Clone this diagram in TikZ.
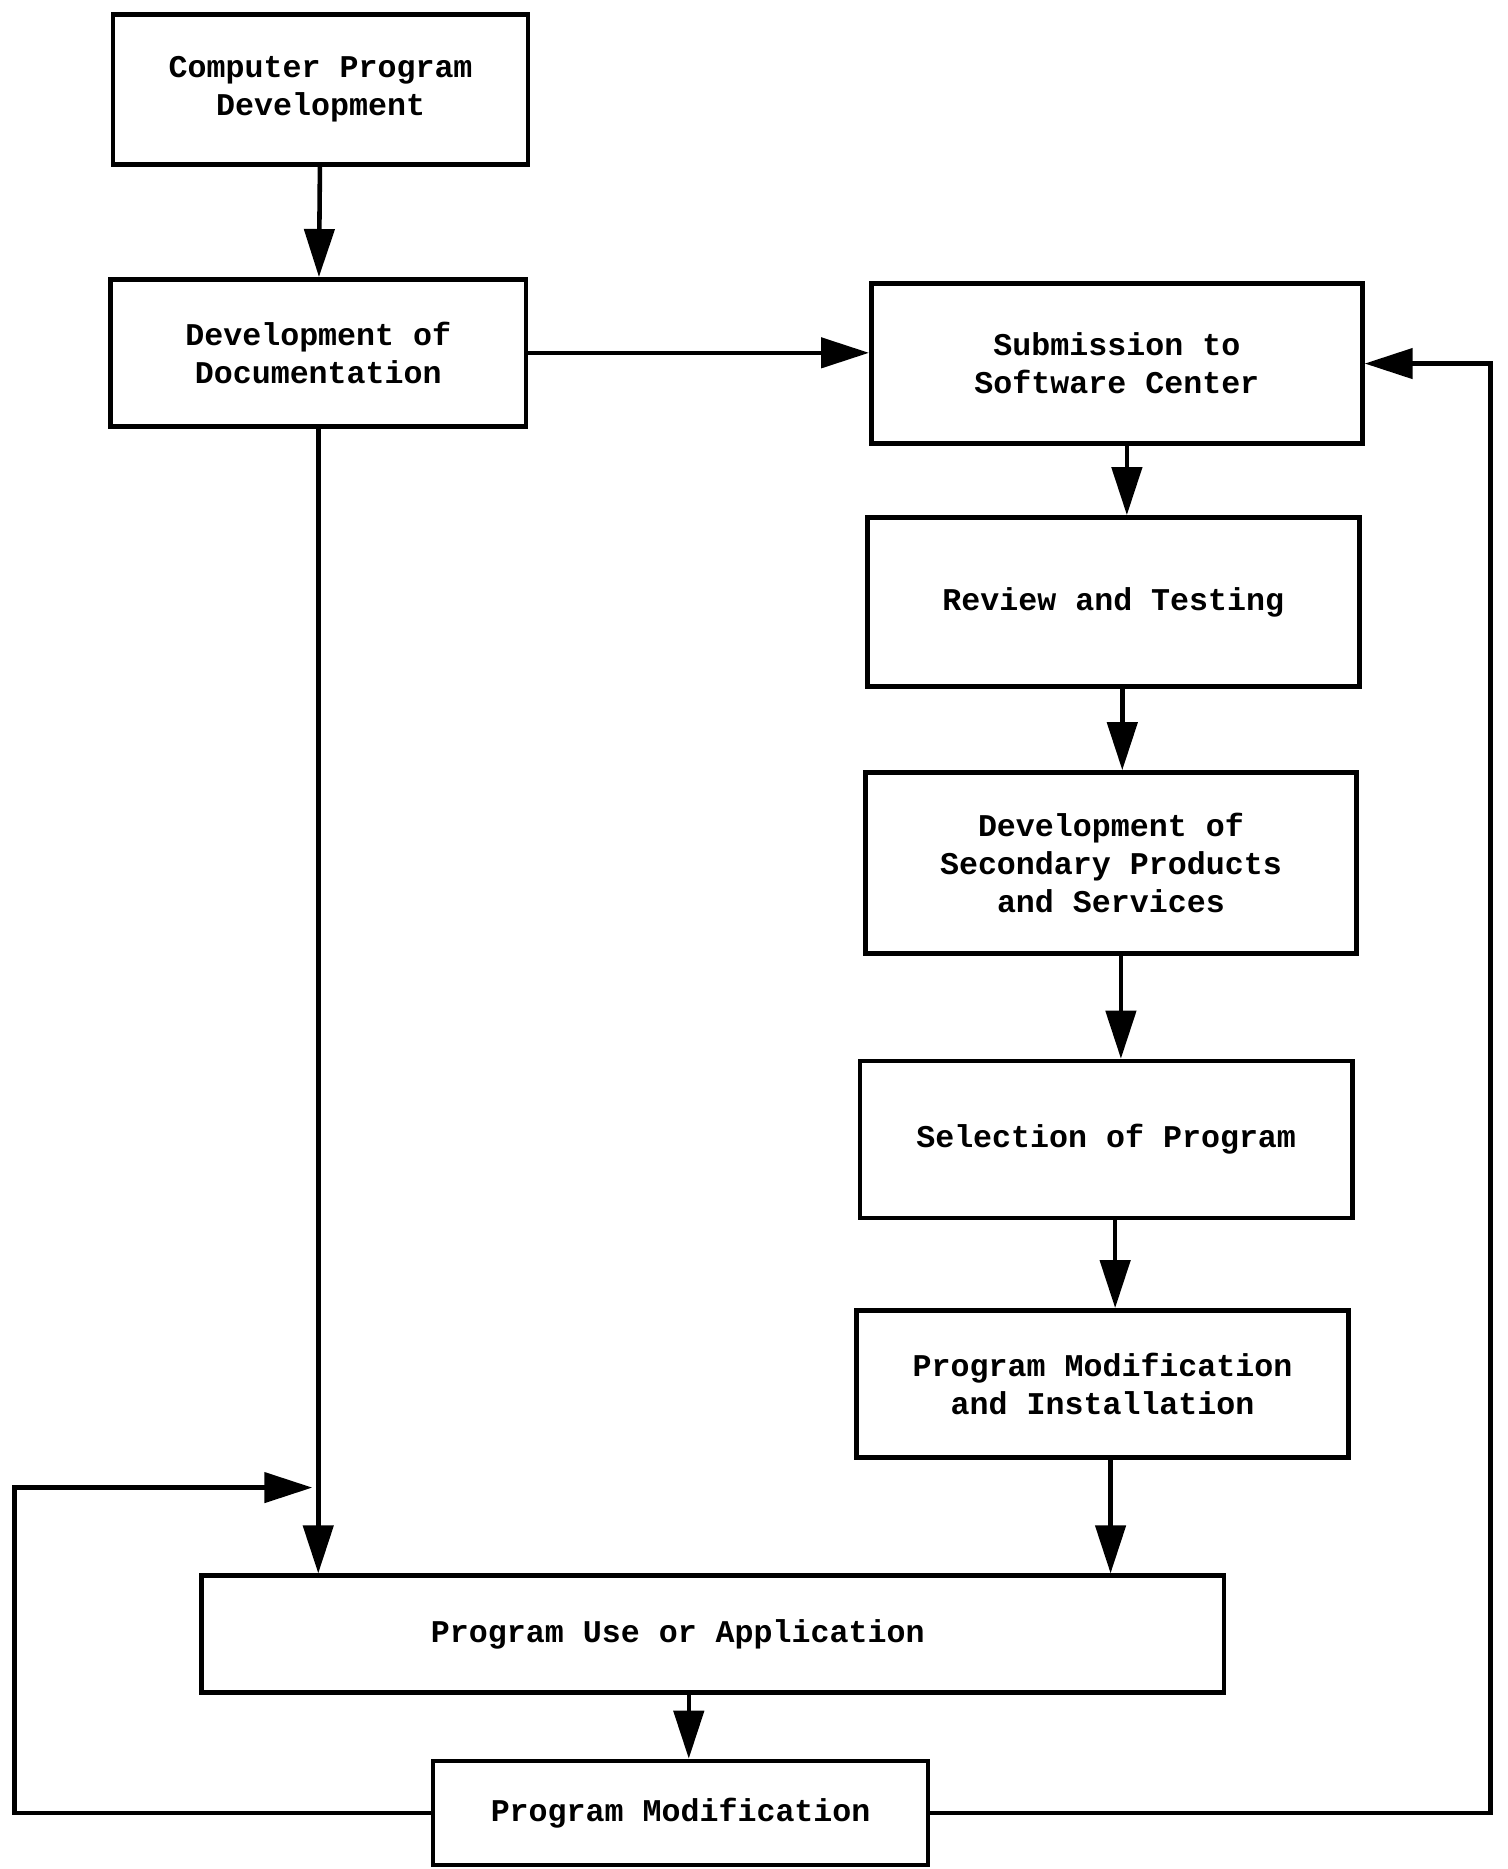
\documentclass[tikz,border=0pt]{standalone}
\usepackage{fontspec}
\setmonofont{Liberation Mono}
\usetikzlibrary{arrows.meta}

\begin{document}
\begin{tikzpicture}[x=0.01192cm, y=-0.01192cm,
	box/.style={draw, line width=1.3pt, align=center, font=\ttfamily\bfseries\fontsize{9}{10.8}\selectfont},
	flow/.style={-{Triangle[length=4.8mm, width=3mm]}, line width=1.3pt}]
	
	\useasboundingbox (0,0) rectangle (1265,1568);
	
	% left column
	\node [box, minimum width=4.15cm, minimum height=1.5cm] (cpd) at (269,75) {Computer Program\\Development};
	\node [box, minimum width=4.15cm, minimum height=1.47cm] (doc) at (267,296) {Development of\\Documentation};
	
	% right column
	\node [box, minimum width=4.91cm, minimum height=1.6cm] (sub) at (937,305) {Submission to\\Software Center};
	\node [box, minimum width=4.92cm, minimum height=1.69cm] (rev) at (934,505) {Review and Testing};
	\node [box, minimum width=4.91cm, minimum height=1.81cm] (sec) at (932,724) {Development of\\Secondary Products\\and Services};
	\node [box, minimum width=4.92cm, minimum height=1.57cm] (sel) at (928,956) {Selection of Program};
	\node [box, minimum width=4.92cm, minimum height=1.47cm] (ins) at (925,1161) {Program Modification\\and Installation};
	
	% bottom
	\node [box, minimum width=10.22cm, minimum height=1.17cm] (use) at (598,1371) {\hspace*{-0.7cm}Program Use or Application};
	\node [box, minimum width=4.95cm, minimum height=1.04cm] (pmod) at (571,1521) {Program Modification};
	
	\draw [flow] (cpd) -- (doc);
	\draw [flow] (doc.east) -- (doc.east -| sub.west);
	\draw [flow] (doc.south) -- (doc.south |- use.north);
	\draw [flow] ([xshift=0.1cm] sub.south) -- ([xshift=0.1cm] sub.south |- rev.north);
	\draw [flow] ([xshift=0.09cm] rev.south) -- ([xshift=0.09cm] rev.south |- sec.north);
	\draw [flow] ([xshift=0.1cm] sec.south) -- ([xshift=0.1cm] sec.south |- sel.north);
	\draw [flow] ([xshift=0.09cm] sel.south) -- ([xshift=0.09cm] sel.south |- ins.north);
	\draw [flow] ([xshift=0.08cm] ins.south) -- ([xshift=0.08cm] ins.south |- use.north);
	\draw [flow] ([xshift=-0.24cm] use.south) -- ([xshift=-0.24cm] use.south |- pmod.north);
	
	% feedback loops
	\coordinate (back) at (262,1248);
	\draw [flow] (pmod.west) -| (12,1248) -- (back);
	\draw [flow] (pmod.east) -- ++(470,0) |- (sub.east);
	
\end{tikzpicture}
\end{document}
